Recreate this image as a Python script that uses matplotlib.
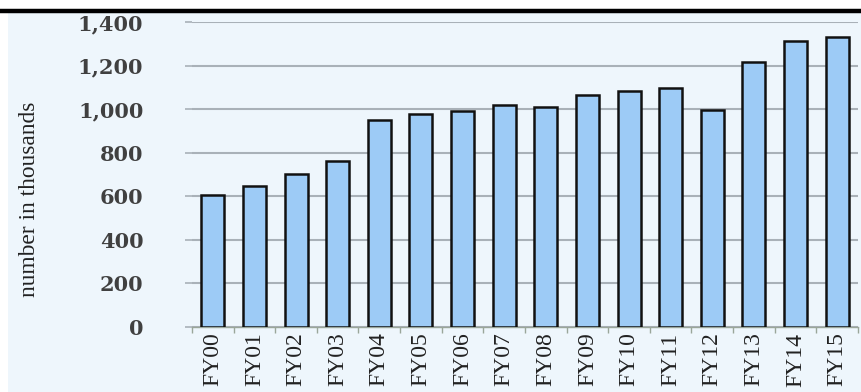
import matplotlib.pyplot as plt
from matplotlib.lines import Line2D
from matplotlib.patches import Rectangle

years = ['FY00', 'FY01', 'FY02', 'FY03', 'FY04', 'FY05', 'FY06', 'FY07',
         'FY08', 'FY09', 'FY10', 'FY11', 'FY12', 'FY13', 'FY14', 'FY15']
values = [608, 648, 702, 762, 952, 980, 993, 1020,
          1012, 1065, 1083, 1098, 995, 1216, 1314, 1332]
yticks = [0, 200, 400, 600, 800, 1000, 1200, 1400]

bg = '#eef6fc'
fig = plt.figure(figsize=(8.62, 3.92), dpi=100, facecolor='white')
# panel background below the rule line
fig.add_artist(Rectangle((8 / 862, 0), 1, 1 - 13 / 392, transform=fig.transFigure,
                         facecolor=bg, edgecolor='none', zorder=0))
fig.add_artist(Line2D([0, 1], [1 - 11 / 392, 1 - 11 / 392], transform=fig.transFigure,
                      color='black', linewidth=3.2))

ax = fig.add_axes([192 / 862, 65 / 392, 666 / 862, 305 / 392])
ax.set_facecolor('none')

x = range(len(years))
ax.bar(x, values, width=0.55, color='#9dcbf6', edgecolor='#111111', linewidth=1.8, zorder=3)

ax.set_xlim(-0.5, len(years) - 0.5)
ax.set_ylim(0, 1400)
ax.set_yticks(yticks)
ax.set_yticklabels(['{:,}'.format(v) for v in yticks], family='DejaVu Serif',
                   fontsize=15, fontweight='bold', color='#404040')
ax.yaxis.grid(True, color='#a9b1b8', linewidth=1.5, zorder=0)
ax.tick_params(axis='y', length=5, color='#a9b1b8', width=1.2, pad=30)
for lbl in ax.get_yticklabels():
    lbl.set_horizontalalignment('right')

ax.set_xticks([i + 0.5 for i in range(-1, len(years))], minor=False)
ax.set_xticklabels([])
ax.set_xticks(list(x), minor=True)
ax.set_xticklabels(years, minor=True, rotation=90, family='Liberation Serif',
                   fontsize=17, color='#222222')
ax.tick_params(axis='x', which='major', length=4, color='#9aa69a', width=1)
ax.tick_params(axis='x', which='minor', length=0, pad=4)

for side in ['top', 'right', 'left']:
    ax.spines[side].set_visible(False)
ax.spines['bottom'].set_color('#9aa69a')
ax.spines['bottom'].set_linewidth(1)

fig.text(30 / 862, 193 / 392, 'number in thousands', rotation=90, ha='center', va='center',
         family='Liberation Serif', fontsize=16.8, color='#222222')

fig.savefig('out.png', dpi=100, facecolor=fig.get_facecolor())
